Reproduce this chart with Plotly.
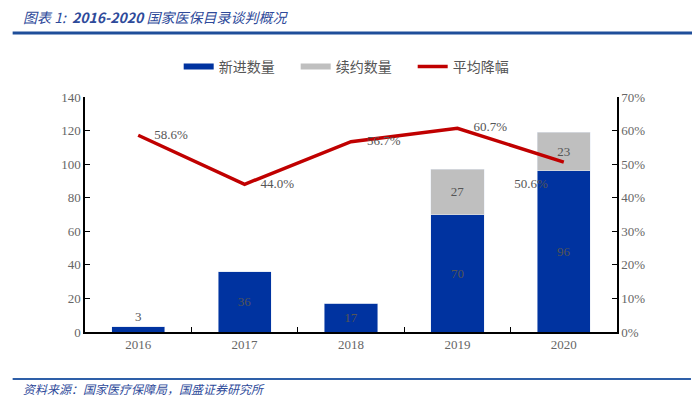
import plotly.graph_objects as go

years = ["2016", "2017", "2018", "2019", "2020"]
new_counts = [3, 36, 17, 70, 96]
renew_counts = [0, 0, 0, 27, 23]
avg_cut = [58.6, 44.0, 56.7, 60.7, 50.6]

BLUE = "#0033a0"
GRAY = "#bfbfbf"
RED = "#c00000"
TXT = "#666666"
SERIF = "Liberation Serif, Times New Roman, serif"

fig = go.Figure()

fig.add_trace(go.Bar(
    x=years, y=new_counts, marker_color=BLUE, width=0.5, showlegend=False,
    text=[str(v) for v in new_counts],
    textposition=["outside", "inside", "inside", "inside", "inside"],
    insidetextanchor="middle",
    textfont=dict(family=SERIF, size=13, color="#555555"),
    cliponaxis=False,
))
fig.add_trace(go.Bar(
    x=years, y=renew_counts, marker_color=GRAY, width=0.5, showlegend=False,
    text=[str(v) if v else "" for v in renew_counts],
    textposition="inside", insidetextanchor="middle",
    textfont=dict(family=SERIF, size=13, color="#555555"),
))
fig.add_trace(go.Scatter(
    x=years, y=avg_cut, yaxis="y2", mode="lines+markers+text",
    line=dict(color=RED, width=3.5), showlegend=False,
    marker=dict(size=24, color="rgba(0,0,0,0)"),
    text=[f"{v:.1f}%" for v in avg_cut],
    textposition=["middle right", "middle right", "middle right", "middle right", "bottom left"],
    textfont=dict(family=SERIF, size=13, color="#555555"),
    cliponaxis=False,
))

# legend entries
for name, col in [("新进数量", BLUE), ("续约数量", GRAY), ("平均降幅", RED)]:
    fig.add_trace(go.Scatter(
        x=[None], y=[None], mode="lines", name=name,
        line=dict(color=col, width=6 if col != RED else 3.5),
    ))

fig.update_layout(
    width=692, height=391,
    margin=dict(l=77, r=83, t=89, b=67),
    paper_bgcolor="white", plot_bgcolor="white",
    barmode="stack",
    bargap=0.5,
    font=dict(family=SERIF, color=TXT, size=13),
    xaxis=dict(
        showline=True, linecolor="black", linewidth=1.5,
        ticks="inside", tickson="boundaries", ticklen=5, tickcolor="black",
        showgrid=False, tickfont=dict(family=SERIF, size=13, color=TXT),
    ),
    yaxis=dict(
        range=[0, 140], dtick=20, showline=True, linecolor="black", linewidth=1.5,
        ticks="inside", ticklen=5, tickcolor="black", showgrid=False, zeroline=False,
        tickfont=dict(family=SERIF, size=13, color=TXT),
    ),
    yaxis2=dict(
        range=[0, 70], dtick=10, ticksuffix="%", overlaying="y", side="right",
        showline=True, linecolor="black", linewidth=1.5,
        ticks="inside", ticklen=5, tickcolor="black", showgrid=False, zeroline=False,
        tickfont=dict(family=SERIF, size=13, color=TXT),
    ),
    legend=dict(
        orientation="h", x=0.506, xanchor="center", y=1.128, yanchor="middle",
        font=dict(family="Noto Sans CJK SC", size=14, color="#555555"),
        itemwidth=30, traceorder="normal", entrywidth=72,
    ),
    shapes=[
        dict(type="line", xref="paper", yref="paper", x0=-0.136, x1=1.16,
             y0=1 + (97 - 33) / 235, y1=1 + (97 - 33) / 235,
             line=dict(color="#1f4e9a", width=3)),
        dict(type="line", xref="paper", yref="paper", x0=-0.136, x1=1.139,
             y0=-(379 - 332) / 235, y1=-(379 - 332) / 235,
             line=dict(color="#2e5fa8", width=2)),
    ],
    annotations=[
        dict(xref="paper", yref="paper", x=-0.12, y=1 + (97 - 17) / 235,
             xanchor="left", yanchor="middle", showarrow=False,
             text="<i>图表 1:  <b>2016-2020</b> 国家医保目录谈判概况</i>",
             font=dict(family="Noto Sans CJK SC", size=14, color="#2e4a9a")),
        dict(xref="paper", yref="paper", x=-0.12, y=-(388 - 332) / 235,
             xanchor="left", yanchor="middle", showarrow=False,
             text="<i>资料来源：国家医疗保障局，国盛证券研究所</i>",
             font=dict(family="Noto Sans CJK SC", size=12, color="#2e4a9a")),
    ],
)

fig.write_html("out.html")
